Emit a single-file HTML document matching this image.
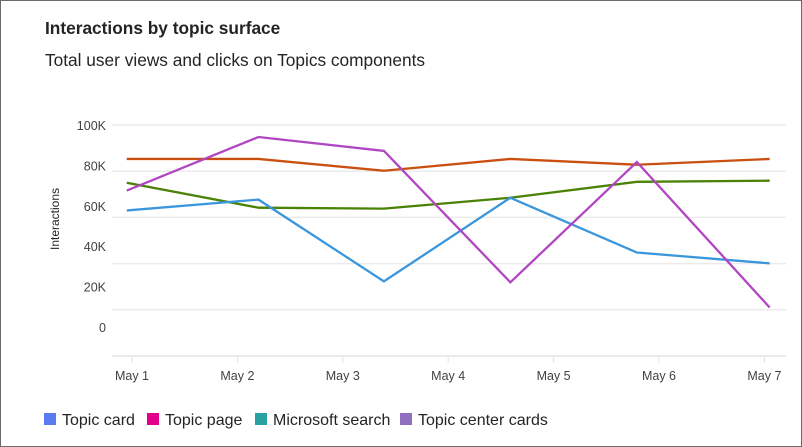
<!DOCTYPE html>
<html><head><meta charset="utf-8"><style>
html,body{margin:0;padding:0;background:#fff;}
#card{position:relative;width:800px;height:445px;border:1px solid #6b6b6b;font-family:"Liberation Sans",sans-serif;color:#242424;overflow:hidden;}
#title{position:absolute;left:44px;top:17px;font-size:17.3px;font-weight:bold;}
#sub{position:absolute;left:44px;top:49px;font-size:17.3px;}
svg{position:absolute;left:0;top:0;}
</style></head><body>
<div id="card">
<div id="title">Interactions by topic surface</div>
<div id="sub">Total user views and clicks on Topics components</div>
<svg id="chart" width="800" height="445"></svg>
</div>
<script>
const xTickLabels = ["May 1","May 2","May 3","May 4","May 5","May 6","May 7"];
const yTickLabels = ["100K","80K","60K","40K","20K","0"];
const pointDays = [0.95, 2.2, 3.39, 4.59, 5.79, 7.05];
const topicCard = [63, 67.7, 32.3, 68.5, 44.8, 40.1];
const topicPage = [85.3, 85.3, 80.2, 85.3, 82.8, 85.3];
const msSearch = [75, 64.2, 63.8, 68.5, 75.4, 75.9];
const topicCenter = [71.6, 94.8, 88.8, 31.9, 84, 21];
const seriesNames = ["Topic card","Topic page","Microsoft search","Topic center cards"];

const NS="http://www.w3.org/2000/svg";
const svg=document.getElementById('chart');
function mk(t,a){const e=document.createElementNS(NS,t);for(const k in a)e.setAttribute(k,a[k]);svg.appendChild(e);return e;}
const x=d=>131+(d-1)*105.4;
const y=v=>355-v/100*231;
for(let i=0;i<=5;i++){
  const g=mk('line',{x1:111,x2:785,y1:y(i*20),y2:y(i*20),stroke:i==0?'#e3e3e3':'#ebebeb','stroke-width':1.5});
  
  
}
yTickLabels.forEach((l,i)=>{
  const t=mk('text',{x:105,y:129+i*40.4,'text-anchor':'end','font-size':12.5,fill:'#424242','font-family':'Liberation Sans, sans-serif'});
  t.textContent=l;
  
  
});
const yt=mk('text',{x:0,y:0,transform:'translate(58,218) rotate(-90)','text-anchor':'middle','font-size':12,fill:'#242424','font-family':'Liberation Sans, sans-serif'});
yt.textContent='Interactions';


xTickLabels.forEach((l,i)=>{
  const tk=mk('line',{x1:x(i+1),x2:x(i+1),y1:356,y2:362,stroke:'#e0e0e0','stroke-width':1});
  
  
  const t=mk('text',{x:x(i+1),y:379,'text-anchor':'middle','font-size':12.5,fill:'#424242','font-family':'Liberation Sans, sans-serif'});
  t.textContent=l;
  
  
});
const series=[[topicPage,'#ca5010','line-topic-page'],[msSearch,'#498205','line-microsoft-search'],[topicCard,'#3a96dd','line-topic-card'],[topicCenter,'#b146c2','line-topic-center-cards']];
series.forEach(([vals,c,n])=>{
  const p=mk('polyline',{points:vals.map((v,i)=>x(pointDays[i])+','+y(v)).join(' '),fill:'none',stroke:c,'stroke-width':2.3,'stroke-linejoin':'miter'});
  
  
});
const legColors=['#5b7bf0','#e3008c','#27a1a1','#8f6fc0'];
const legX=[43,146,254,399];
seriesNames.forEach((n,i)=>{
  const r=mk('rect',{x:legX[i],y:412,width:12,height:12,fill:legColors[i]});
  
  
  const t=mk('text',{x:legX[i]+18,y:424,'font-size':16,fill:'#242424','font-family':'Liberation Sans, sans-serif'});
  t.textContent=n;
  
  
});
</script>
</body></html>
